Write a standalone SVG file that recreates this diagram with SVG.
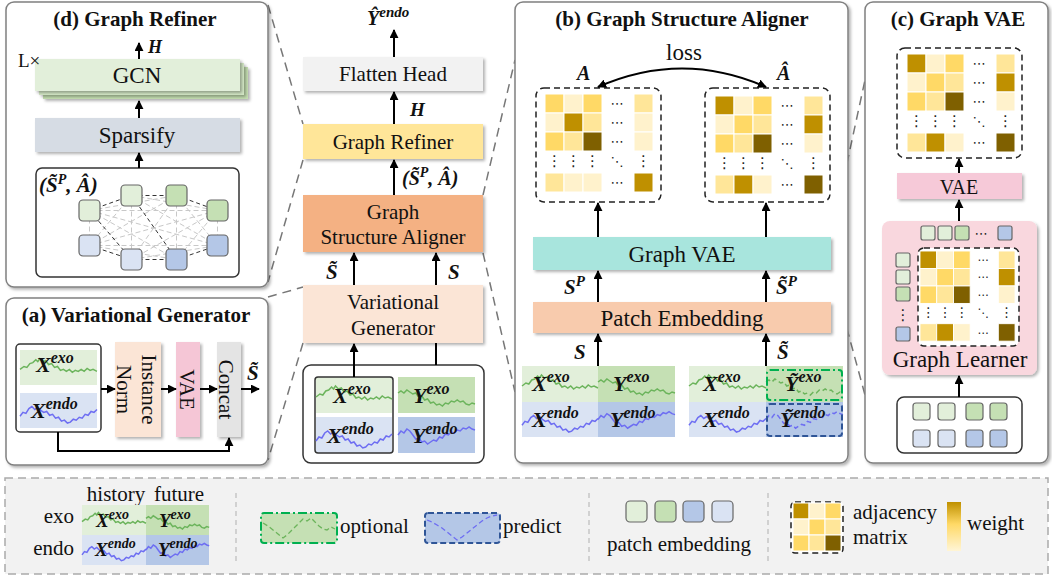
<svg xmlns="http://www.w3.org/2000/svg" xmlns:xlink="http://www.w3.org/1999/xlink" width="1052" height="577" viewBox="0 0 1052 577">
<defs>
<style>
.t{font-family:"Liberation Serif","Times New Roman",serif;fill:#111}
.ti{font-family:"Liberation Serif","Times New Roman",serif;font-weight:bold;font-size:21px;fill:#111;text-anchor:middle}
.m{font-family:"Liberation Serif","Times New Roman",serif;font-weight:bold;font-style:italic;fill:#111}
.c{text-anchor:middle}
.pan{fill:#fff;stroke:#808080;stroke-width:1.5;filter:url(#sh)}
.sh{filter:url(#sh)}
.ar{stroke:#000;stroke-width:2;fill:none;marker-end:url(#ah)}
.ln{stroke:#000;stroke-width:2;fill:none}
.con{stroke:#777;stroke-width:1.5;stroke-dasharray:9 6;fill:none}
.gs{stroke:#6cb45c;stroke-width:1.5;fill:none}
.bs{stroke:#6e6ef2;stroke-width:1.5;fill:none}
.LG{fill:#e2efda}.G{fill:#c5e0b4}.LB{fill:#dae3f3}.B{fill:#b4c7e7}
.c1{fill:#bf9000}.c2{fill:#7f6000}.c3{fill:#ffd966}.c4{fill:#ffe699}.c5{fill:#fff2cc}
.cell rect{stroke:#fff;stroke-width:1}
.dm{stroke:#222;stroke-width:1.5;stroke-dasharray:6 4;fill:#fff}
.nd{stroke:#666;stroke-width:1.2}
.dh{font-family:"DejaVu Sans",sans-serif;font-size:13px;fill:#222;text-anchor:middle}
.dv{font-family:"DejaVu Sans",sans-serif;font-size:15px;fill:#222;text-anchor:middle}
</style>
<filter id="sh" x="-10%" y="-10%" width="125%" height="130%">
<feDropShadow dx="2" dy="2" stdDeviation="1.5" flood-color="#000" flood-opacity="0.3"/>
</filter>
<marker id="ah" viewBox="0 0 10 10" refX="9" refY="5" markerWidth="4.5" markerHeight="4.5" orient="auto-start-reverse">
<path d="M0,0L10,5L0,10z" fill="#000"/>
</marker>
<linearGradient id="wg" x1="0" y1="0" x2="0" y2="1">
<stop offset="0" stop-color="#bf9000"/><stop offset="0.45" stop-color="#ffd966"/><stop offset="1" stop-color="#fff5d6"/>
</linearGradient>
<path id="gh" vector-effect="non-scaling-stroke" d="M0,20 L4,17 L7,18 L10,14 L13,13 L16,10 L18,12 L20,9 L23,12 L26,11 L29,15 L32,14 L35,18 L38,17 L41,21 L44,20 L47,22 L50,20 L53,23 L56,21 L59,22 L62,20 L65,22 L68,19 L71,21 L74,20 L78,22"/>
<path id="gf" vector-effect="non-scaling-stroke" d="M0,16 L3,14 L6,16 L9,13 L12,15 L15,17 L18,16 L21,20 L24,19 L27,23 L30,22 L33,26 L36,25 L39,28 L42,27 L45,29 L48,26 L51,27 L54,24 L57,25 L60,23 L63,25 L66,24 L69,27 L72,28 L75,26 L78,27"/>
<path id="bh" vector-effect="non-scaling-stroke" d="M0,24 L3,20 L6,21 L9,16 L12,14 L15,17 L18,15 L21,18 L24,20 L27,19 L30,23 L33,22 L36,26 L39,25 L42,29 L45,28 L48,31 L51,30 L54,27 L57,28 L60,25 L63,26 L66,22 L69,23 L72,19 L75,20 L78,17"/>
<path id="bf" vector-effect="non-scaling-stroke" d="M0,18 L3,14 L6,16 L9,12 L12,14 L15,18 L18,22 L21,21 L24,25 L27,24 L30,27 L33,25 L36,23 L39,24 L42,20 L45,21 L48,17 L51,18 L54,15 L57,16 L60,13 L63,14 L66,11 L69,12 L72,10 L75,12 L78,13"/>
<g id="matA" class="cell">
<rect class="c3" x="0" y="0" width="19" height="19"/><rect class="c5" x="19" y="0" width="19" height="19"/><rect class="c3" x="38" y="0" width="19" height="19"/><rect class="c4" x="89" y="0" width="19" height="19"/>
<rect class="c5" x="0" y="19" width="19" height="19"/><rect class="c1" x="19" y="19" width="19" height="19"/><rect class="c4" x="38" y="19" width="19" height="19"/><rect class="c5" x="89" y="19" width="19" height="19"/>
<rect class="c3" x="0" y="38" width="19" height="19"/><rect class="c4" x="19" y="38" width="19" height="19"/><rect class="c2" x="38" y="38" width="19" height="19"/><rect class="c5" x="89" y="38" width="19" height="19"/>
<rect class="c4" x="0" y="79" width="19" height="19"/><rect class="c5" x="19" y="79" width="19" height="19"/><rect class="c5" x="38" y="79" width="19" height="19"/><rect class="c1" x="89" y="79" width="19" height="19"/>
<text class="dh" x="72" y="14">⋯</text><text class="dh" x="72" y="33">⋯</text><text class="dh" x="72" y="52">⋯</text><text class="dh" x="72" y="93">⋯</text>
<text class="dv" x="9.5" y="72">⋮</text><text class="dv" x="28.5" y="72">⋮</text><text class="dv" x="47.5" y="72">⋮</text><text class="dv" x="98.5" y="72">⋮</text><text class="dh" x="72" y="72">⋱</text>
</g>
<g id="matB" class="cell">
<rect class="c1" x="0" y="0" width="19" height="19"/><rect class="c5" x="19" y="0" width="19" height="19"/><rect class="c3" x="38" y="0" width="19" height="19"/><rect class="c4" x="89" y="0" width="19" height="19"/>
<rect class="c5" x="0" y="19" width="19" height="19"/><rect class="c3" x="19" y="19" width="19" height="19"/><rect class="c4" x="38" y="19" width="19" height="19"/><rect class="c1" x="89" y="19" width="19" height="19"/>
<rect class="c3" x="0" y="38" width="19" height="19"/><rect class="c4" x="19" y="38" width="19" height="19"/><rect class="c2" x="38" y="38" width="19" height="19"/><rect class="c5" x="89" y="38" width="19" height="19"/>
<rect class="c4" x="0" y="79" width="19" height="19"/><rect class="c1" x="19" y="79" width="19" height="19"/><rect class="c5" x="38" y="79" width="19" height="19"/><rect class="c2" x="89" y="79" width="19" height="19"/>
<text class="dh" x="72" y="14">⋯</text><text class="dh" x="72" y="33">⋯</text><text class="dh" x="72" y="52">⋯</text><text class="dh" x="72" y="93">⋯</text>
<text class="dv" x="9.5" y="72">⋮</text><text class="dv" x="28.5" y="72">⋮</text><text class="dv" x="47.5" y="72">⋮</text><text class="dv" x="98.5" y="72">⋮</text><text class="dh" x="72" y="72">⋱</text>
</g>
</defs>

<rect width="1052" height="577" fill="#fff"/>

<!-- dashed zoom connectors -->
<g id="zoom-lines">
<path class="con" d="M268,5 L303,124"/>
<path class="con" d="M303,160 L268,282"/>
<path class="con" d="M268,297 L303,287"/>
<path class="con" d="M303,343 L268,460"/>
<path class="con" d="M483,195 L515,60"/>
<path class="con" d="M483,253 L515,392"/>
<path class="con" d="M831,237 L865,80"/>
<path class="con" d="M831,270 L865,395"/>
</g>

<!-- Panel d -->
<g id="panel-d">
<rect class="pan" x="6" y="2" width="262" height="285" rx="8"/>
<text class="ti" x="135" y="26">(d)  Graph Refiner</text>
<text class="m" x="148" y="53" font-size="18">H</text>
</g>
<g id="gcn">
<rect x="43" y="67" width="205" height="32" fill="#c5dfb2" class="sh"/>
<rect x="39" y="63" width="205" height="32" fill="#d3e7c5" class="sh"/>
<rect x="35" y="59" width="205" height="32" fill="#e2efda" class="sh"/>
<text class="t c" x="137" y="83" font-size="23">GCN</text>
<text class="t" x="18" y="67" font-size="19">L×</text>
</g>
<g id="sparsify">
<rect x="35" y="118" width="205" height="34" fill="#d6dce4" class="sh"/>
<text class="t c" x="137" y="143" font-size="23">Sparsify</text>
</g>
<g id="graph-d">
<rect x="36" y="168" width="203" height="109" rx="6" fill="#fff" stroke="#333" stroke-width="1.5"/>
<path d="M89.5,210.5L176.5,195.5M89.5,210.5L217.5,210.5M89.5,210.5L89.5,245.5M89.5,210.5L176.5,259.5M89.5,210.5L217.5,245.5M131.5,195.5L217.5,210.5M131.5,195.5L89.5,245.5M131.5,195.5L131.5,259.5M131.5,195.5L217.5,245.5M176.5,195.5L89.5,245.5M176.5,195.5L131.5,259.5M176.5,195.5L176.5,259.5M176.5,195.5L217.5,245.5M217.5,210.5L89.5,245.5M217.5,210.5L131.5,259.5M217.5,210.5L176.5,259.5M217.5,210.5L217.5,245.5M89.5,245.5L176.5,259.5M89.5,245.5L217.5,245.5M131.5,259.5L217.5,245.5" stroke="#c8c8c8" stroke-width="1" stroke-dasharray="5 3" fill="none"/>
<path d="M89.5,210.5L131.5,195.5M131.5,195.5L176.5,195.5M176.5,195.5L217.5,210.5M131.5,259.5L176.5,259.5M176.5,259.5L217.5,245.5M89.5,245.5L131.5,259.5M89.5,210.5L131.5,259.5M131.5,195.5L176.5,259.5" stroke="#333" stroke-width="1" stroke-dasharray="4 3" fill="none"/>
<rect class="LG nd" x="79" y="200" width="21" height="21" rx="4"/>
<rect class="LG nd" x="121" y="185" width="21" height="21" rx="4"/>
<rect class="G nd" x="166" y="185" width="21" height="21" rx="4"/>
<rect class="G nd" x="207" y="200" width="21" height="21" rx="4"/>
<rect class="LB nd" x="79" y="235" width="21" height="21" rx="4"/>
<rect class="LB nd" x="121" y="249" width="21" height="21" rx="4"/>
<rect class="B nd" x="166" y="249" width="21" height="21" rx="4"/>
<rect class="B nd" x="207" y="235" width="21" height="21" rx="4"/>
<text class="m" x="39" y="192" font-size="21">(S&#x303;<tspan font-size="14" dy="-8">P</tspan><tspan dy="8">, Â)</tspan></text>
</g>

<!-- Panel a -->
<g id="panel-a">
<rect class="pan" x="6" y="298" width="262" height="167" rx="8"/>
<text class="ti" x="136" y="322">(a) Variational Generator</text>
</g>
<g id="input-a">
<rect x="16" y="344" width="85" height="88" rx="4" fill="#fff" stroke="#333" stroke-width="1.5"/>
<rect class="LG" x="20" y="350" width="77" height="35"/>
<rect class="LB" x="20" y="393" width="77" height="35"/>
<use href="#gh" class="gs" transform="translate(20,350) scale(0.987,0.97)"/>
<use href="#bh" class="bs" transform="translate(20,393) scale(0.987,0.97)"/>
<text class="m" x="36" y="372" font-size="22">X<tspan font-size="16" dy="-9">exo</tspan></text>
<text class="m" x="31" y="418" font-size="22">X<tspan font-size="16" dy="-9">endo</tspan></text>
</g>
<g id="instance-norm">
<rect x="115" y="342" width="46" height="95" fill="#fbe5d6" class="sh"/>
<g transform="translate(138,389.5) rotate(90)"><text class="t c" x="0" y="-4" font-size="21">Instance</text><text class="t c" x="0" y="21" font-size="21">Norm</text></g>
</g>
<g id="vae-a">
<rect x="176" y="342" width="24" height="95" fill="#f5c6d6" class="sh"/>
<g transform="translate(188,389.5) rotate(90)"><text class="t c" x="0" y="8" font-size="21">VAE</text></g>
</g>
<g id="concat">
<rect x="217" y="342" width="24" height="95" fill="#e4e4e4" class="sh"/>
<g transform="translate(229,389.5) rotate(90)"><text class="t c" x="0" y="10" font-size="21">Concat</text></g>
</g>
<text class="m" x="247" y="380" font-size="21">S&#x303;</text>

<!-- Center column -->
<g id="flatten-head">
<rect x="303" y="57" width="180" height="34" fill="#f2f2f2" class="sh"/>
<text class="t c" x="393" y="81" font-size="21">Flatten Head</text>
</g>
<g id="graph-refiner">
<rect x="303" y="124" width="180" height="35" fill="#ffe699" class="sh"/>
<text class="t c" x="393" y="149" font-size="21">Graph Refiner</text>
</g>
<g id="gsa">
<rect x="303" y="195" width="180" height="57" fill="#f4b183" class="sh"/>
<text class="t c" x="393" y="219" font-size="21">Graph</text>
<text class="t c" x="393" y="244" font-size="21">Structure Aligner</text>
</g>
<g id="var-gen">
<rect x="303" y="285" width="180" height="58" fill="#fbe5d6" class="sh"/>
<text class="t c" x="393" y="309" font-size="21">Variational</text>
<text class="t c" x="393" y="335" font-size="21">Generator</text>
</g>
<g id="input-center">
<rect x="303" y="365" width="181" height="98" rx="8" fill="#fff" stroke="#333" stroke-width="1.5"/>
<rect class="LG" x="316" y="377" width="76" height="36"/>
<rect class="LB" x="316" y="417" width="76" height="36"/>
<rect x="315" y="377" width="78" height="76" rx="3" fill="none" stroke="#333" stroke-width="1.5"/>
<rect class="G" x="398" y="377" width="77" height="36"/>
<rect class="B" x="398" y="417" width="77" height="36"/>
<use href="#gh" class="gs" transform="translate(316,377) scale(0.974,1)"/>
<use href="#gf" class="gs" transform="translate(398,377) scale(0.987,1)"/>
<use href="#bh" class="bs" transform="translate(316,417) scale(0.974,1)"/>
<use href="#bf" class="bs" transform="translate(398,417) scale(0.987,1)"/>
<text class="m" x="333" y="403" font-size="22">X<tspan font-size="16" dy="-9">exo</tspan></text>
<text class="m" x="413" y="403" font-size="22">Y<tspan font-size="16" dy="-9">exo</tspan></text>
<text class="m" x="327" y="443" font-size="22">X<tspan font-size="16" dy="-9">endo</tspan></text>
<text class="m" x="412" y="443" font-size="22">Y<tspan font-size="16" dy="-9">endo</tspan></text>
</g>
<g id="center-labels">
<text class="m" x="367" y="25" font-size="20">Ŷ<tspan font-size="15" dy="-8">endo</tspan></text>
<text class="m" x="410" y="116" font-size="19">H</text>
<text class="m" x="402" y="185" font-size="20">(S&#x303;<tspan font-size="14" dy="-8">P</tspan><tspan dy="8">, Â)</tspan></text>
<text class="m" x="326" y="279" font-size="21">S&#x303;</text>
<text class="m" x="448" y="279" font-size="21">S</text>
</g>

<!-- Panel b -->
<g id="panel-b">
<rect class="pan" x="515" y="2" width="333" height="461" rx="8"/>
<text class="ti" x="682" y="26">(b) Graph Structure Aligner</text>
<text class="t c" x="684" y="60" font-size="23">loss</text>
<text class="m" x="577" y="80" font-size="20">A</text>
<text class="m" x="777" y="80" font-size="20">Â</text>
</g>
<g id="matrix-A">
<rect class="dm" x="536" y="88" width="125" height="114" rx="8"/>
<use href="#matA" transform="translate(545,94)"/>
</g>
<g id="matrix-Ahat">
<rect class="dm" x="705" y="88" width="125" height="114" rx="8"/>
<use href="#matB" transform="translate(715,96)"/>
</g>
<g id="graph-vae">
<rect x="533" y="237" width="298" height="33" fill="#a8e5dd" class="sh"/>
<text class="t c" x="682" y="262" font-size="23">Graph VAE</text>
</g>
<g id="patch-emb">
<rect x="533" y="302" width="298" height="31" fill="#f8cbad" class="sh"/>
<text class="t c" x="682" y="326" font-size="23">Patch Embedding</text>
</g>
<g id="series-S">
<rect class="LG" x="522" y="366" width="76" height="36"/>
<rect class="G" x="598" y="366" width="77" height="36"/>
<rect class="LB" x="522" y="402" width="76" height="35"/>
<rect class="B" x="598" y="402" width="77" height="35"/>
<use href="#gh" class="gs" transform="translate(522,366) scale(0.974,1)"/>
<use href="#gf" class="gs" transform="translate(598,366) scale(0.987,1)"/>
<use href="#bh" class="bs" transform="translate(522,402) scale(0.974,0.97)"/>
<use href="#bf" class="bs" transform="translate(598,402) scale(0.987,0.97)"/>
<text class="m" x="532" y="391" font-size="22">X<tspan font-size="16" dy="-9">exo</tspan></text>
<text class="m" x="613" y="391" font-size="22">Y<tspan font-size="16" dy="-9">exo</tspan></text>
<text class="m" x="532" y="427" font-size="22">X<tspan font-size="16" dy="-9">endo</tspan></text>
<text class="m" x="610" y="427" font-size="22">Y<tspan font-size="16" dy="-9">endo</tspan></text>
</g>
<g id="series-S-tilde">
<rect class="LG" x="689" y="366" width="77" height="36"/>
<rect class="G" x="766" y="366" width="77" height="36"/>
<rect class="LB" x="689" y="402" width="77" height="35"/>
<rect class="B" x="766" y="402" width="77" height="35"/>
<use href="#gh" class="gs" transform="translate(689,366) scale(0.987,1)"/>
<use href="#gf" class="gs" stroke-dasharray="5 3" transform="translate(766,366) scale(0.987,1)"/>
<use href="#bh" class="bs" transform="translate(689,402) scale(0.987,0.97)"/>
<use href="#bf" class="bs" stroke-dasharray="5 3" transform="translate(766,402) scale(0.987,0.97)"/>
<rect x="767" y="370" width="75" height="30" rx="3" fill="none" stroke="#00b050" stroke-width="2" stroke-dasharray="9 3 2 3"/>
<rect x="767" y="404" width="75" height="32" rx="3" fill="none" stroke="#2f5597" stroke-width="2" stroke-dasharray="6 3"/>
<text class="m" x="703" y="391" font-size="22">X<tspan font-size="16" dy="-9">exo</tspan></text>
<text class="m" x="785" y="391" font-size="22">Ỹ<tspan font-size="16" dy="-9">exo</tspan></text>
<text class="m" x="703" y="427" font-size="22">X<tspan font-size="16" dy="-9">endo</tspan></text>
<text class="m" x="780" y="427" font-size="22">Ỹ<tspan font-size="16" dy="-9">endo</tspan></text>
</g>
<g id="b-labels">
<text class="m" x="564" y="294" font-size="21">S<tspan font-size="15" dy="-8">P</tspan></text>
<text class="m" x="776" y="294" font-size="21">S&#x303;<tspan font-size="15" dy="-8">P</tspan></text>
<text class="m" x="574" y="359" font-size="21">S</text>
<text class="m" x="777" y="359" font-size="21">S&#x303;</text>
</g>

<!-- Panel c -->
<g id="panel-c">
<rect class="pan" x="865" y="2" width="183" height="461" rx="8"/>
<text class="ti" x="958" y="26">(c) Graph VAE</text>
</g>
<g id="matrix-c">
<rect class="dm" x="897" y="48" width="125" height="110" rx="8"/>
<use href="#matB" transform="translate(907,54)"/>
</g>
<g id="vae-c">
<rect x="897" y="173" width="125" height="26" fill="#f6c9d8" class="sh"/>
<text class="t c" x="959" y="194" font-size="20">VAE</text>
</g>
<g id="graph-learner">
<rect x="882" y="221" width="155" height="154" rx="8" fill="#f9d7de" class="sh"/>
<rect class="LG nd" x="921" y="226" width="14" height="14" rx="2"/>
<rect class="LG nd" x="938" y="226" width="14" height="14" rx="2"/>
<rect class="G nd" x="955" y="226" width="14" height="14" rx="2"/>
<text class="dh" x="981" y="238">⋯</text>
<rect class="B nd" x="998" y="226" width="14" height="14" rx="2"/>
<rect class="LG nd" x="896" y="253" width="14" height="14" rx="2"/>
<rect class="LG nd" x="896" y="270" width="14" height="14" rx="2"/>
<rect class="G nd" x="896" y="287" width="14" height="14" rx="2"/>
<text class="dv" x="903" y="320">⋮</text>
<rect class="B nd" x="896" y="327" width="14" height="14" rx="2"/>
<rect class="dm" x="918" y="248" width="101" height="98" rx="6"/>
<use href="#matB" transform="translate(920,251) scale(0.88,0.92)"/>
<text class="t c" x="960" y="367" font-size="23">Graph  Learner</text>
</g>
<g id="patches-c">
<rect x="897" y="397" width="125" height="56" rx="7" fill="#fff" stroke="#333" stroke-width="1.5"/>
<rect class="LG nd" x="913" y="403" width="17" height="17" rx="3"/>
<rect class="LG nd" x="938" y="403" width="17" height="17" rx="3"/>
<rect class="G nd" x="966" y="403" width="17" height="17" rx="3"/>
<rect class="G nd" x="990" y="403" width="17" height="17" rx="3"/>
<rect class="LB nd" x="913" y="430" width="17" height="17" rx="3"/>
<rect class="LB nd" x="938" y="430" width="17" height="17" rx="3"/>
<rect class="B nd" x="966" y="430" width="17" height="17" rx="3"/>
<rect class="B nd" x="990" y="430" width="17" height="17" rx="3"/>
</g>

<!-- arrows -->
<g id="connectors">
<path class="ar" d="M139,59 L139,43"/>
<path class="ar" d="M139,118 L139,101"/>
<path class="ar" d="M139,168 L139,153"/>
<path class="ar" d="M101,389 L115,389"/>
<path class="ar" d="M161,389 L176,389"/>
<path class="ar" d="M200,389 L217,389"/>
<path class="ar" d="M241,389 L259,389"/>
<path class="ar" d="M58,432 L58,451 L229,451 L229,438"/>
<path class="ar" d="M394,57 L394,30"/>
<path class="ar" d="M394,124 L394,92"/>
<path class="ar" d="M394,195 L394,160"/>
<path class="ar" d="M354,285 L354,253"/>
<path class="ar" d="M436,285 L436,253"/>
<path class="ar" d="M354,377 L354,344"/>
<path class="ln" d="M436,365 L436,343"/>
<path class="ar" d="M598,87 Q682,50 766,87" marker-start="url(#ah)"/>
<path class="ar" d="M598,237 L598,203"/>
<path class="ar" d="M766,237 L766,203"/>
<path class="ar" d="M598,302 L598,271"/>
<path class="ar" d="M766,302 L766,271"/>
<path class="ar" d="M598,366 L598,334"/>
<path class="ar" d="M766,366 L766,334"/>
<path class="ar" d="M959,173 L959,159"/>
<path class="ar" d="M959,221 L959,200"/>
<path class="ar" d="M959,397 L959,376"/>
</g>

<!-- Legend -->
<g id="legend">
<rect x="5" y="478" width="1043" height="96" fill="#f2f2f2" stroke="#aaa" stroke-width="1.5" stroke-dasharray="8 5"/>
<text class="t c" x="116" y="501" font-size="21">history</text>
<text class="t c" x="179" y="501" font-size="21">future</text>
<text class="t" x="74" y="523" font-size="21" text-anchor="end">exo</text>
<text class="t" x="74" y="555" font-size="21" text-anchor="end">endo</text>
<rect class="LG" x="82" y="505" width="64" height="30"/>
<rect class="G" x="146" y="505" width="63" height="30"/>
<rect class="LB" x="82" y="535" width="64" height="30"/>
<rect class="B" x="146" y="535" width="63" height="30"/>
<use href="#gh" class="gs" transform="translate(82,505) scale(0.82,0.83)"/>
<use href="#gf" class="gs" transform="translate(146,505) scale(0.81,0.83)"/>
<use href="#bh" class="bs" transform="translate(82,535) scale(0.82,0.83)"/>
<use href="#bf" class="bs" transform="translate(146,535) scale(0.81,0.83)"/>
<text class="m" x="96" y="527" font-size="19">X<tspan font-size="14" dy="-8">exo</tspan></text>
<text class="m" x="159" y="527" font-size="19">Y<tspan font-size="14" dy="-8">exo</tspan></text>
<text class="m" x="95" y="556" font-size="19">X<tspan font-size="14" dy="-8">endo</tspan></text>
<text class="m" x="158" y="556" font-size="19">Y<tspan font-size="14" dy="-8">endo</tspan></text>
<path d="M236,493 L236,564" stroke="#bbb" stroke-width="1.2" stroke-dasharray="5 4"/>
<rect class="G" x="261" y="513" width="76" height="30" rx="3" stroke="#00b050" stroke-width="2" stroke-dasharray="9 3 2 3"/>
<path d="M263,523 L268,526 L273,530 L278,534 L283,538 L287,535 L291,531 L295,527 L299,523 L303,519 L307,521 L311,518 L315,522 L319,526 L323,529 L327,530 L331,527 L335,529" stroke="#6cb45c" stroke-width="1.3" stroke-dasharray="5 3" fill="none"/>
<text class="t" x="340" y="533" font-size="21">optional</text>
<rect class="B" x="425" y="513" width="75" height="30" rx="3" stroke="#2f5597" stroke-width="2" stroke-dasharray="6 3"/>
<path d="M427,520 L432,522 L437,525 L442,528 L447,532 L452,536 L457,540 L462,537 L467,533 L472,529 L477,525 L482,521 L487,518 L492,516 L497,515" stroke="#6e6ef2" stroke-width="1.3" stroke-dasharray="5 3" fill="none"/>
<text class="t" x="503" y="533" font-size="21">predict</text>
<path d="M589,493 L589,564" stroke="#bbb" stroke-width="1.2" stroke-dasharray="5 4"/>
<rect class="LG nd" x="626" y="501" width="21" height="21" rx="4"/>
<rect class="G nd" x="655" y="501" width="21" height="21" rx="4"/>
<rect class="B nd" x="683" y="501" width="21" height="21" rx="4"/>
<rect class="LB nd" x="712" y="501" width="21" height="21" rx="4"/>
<text class="t c" x="679" y="551" font-size="21">patch embedding</text>
<path d="M768,493 L768,564" stroke="#bbb" stroke-width="1.2" stroke-dasharray="5 4"/>
<rect class="dm" x="791" y="502" width="52" height="51" rx="4"/>
<g class="cell">
<rect class="c1" x="793" y="503" width="16" height="16"/><rect class="c5" x="809" y="503" width="16" height="16"/><rect class="c3" x="825" y="503" width="16" height="16"/>
<rect class="c5" x="793" y="519" width="16" height="16"/><rect class="c3" x="809" y="519" width="16" height="16"/><rect class="c4" x="825" y="519" width="16" height="16"/>
<rect class="c3" x="793" y="535" width="16" height="16"/><rect class="c4" x="809" y="535" width="16" height="16"/><rect class="c2" x="825" y="535" width="16" height="16"/>
</g>
<text class="t" x="853" y="519" font-size="21">adjacency</text>
<text class="t" x="853" y="544" font-size="21">matrix</text>
<rect x="947" y="502" width="14" height="49" fill="url(#wg)"/>
<text class="t" x="967" y="530" font-size="21">weight</text>
</g>
</svg>
